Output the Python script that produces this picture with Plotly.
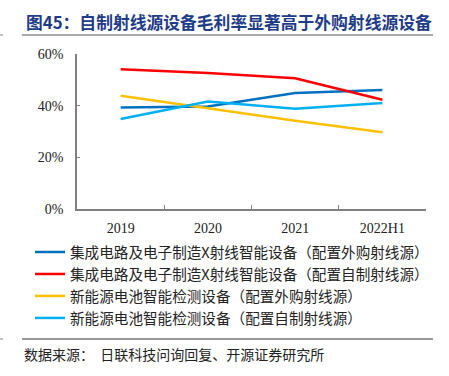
import plotly.graph_objects as go

categories = ["2019", "2020", "2021", "2022H1"]
series_names = [
    "集成电路及电子制造X射线智能设备（配置外购射线源）",
    "集成电路及电子制造X射线智能设备（配置自制射线源）",
    "新能源电池智能检测设备（配置外购射线源）",
    "新能源电池智能检测设备（配置自制射线源）",
]
ic_outsourced = [39.3, 39.7, 44.9, 46.1]
ic_selfmade = [54.1, 52.6, 50.6, 42.3]
battery_outsourced = [43.8, 39.0, 34.2, 29.7]
battery_selfmade = [34.8, 41.6, 38.8, 41.0]
colors = ["#0070C0", "#FF0000", "#FFC000", "#00B0F0"]
y_ticks = [0, 20, 40, 60]
y_tick_labels = ["0%", "20%", "40%", "60%"]

fig = go.Figure()
for name, vals, c in zip(series_names,
                         [ic_outsourced, ic_selfmade, battery_outsourced, battery_selfmade],
                         colors):
    fig.add_trace(go.Scatter(x=categories, y=vals, mode="lines", name=name,
                             line=dict(color=c, width=2.5)))

W, H = 449, 376
L, R, T, B = 77, 23, 54, 167
pw, ph = W - L - R, H - T - B

def px(x):
    return (x - L) / pw

def py(y):
    return (H - B - y) / ph

fig.update_layout(
    width=W, height=H,
    margin=dict(l=L, r=R, t=T, b=B),
    paper_bgcolor="white", plot_bgcolor="white",
    font=dict(family="Noto Sans CJK SC", color="#222222"),
    showlegend=True,
    legend=dict(x=px(30), y=py(236), xanchor="left", yanchor="top",
                font=dict(size=14.6, family="Noto Sans CJK SC", color="#222222"),
                bgcolor="rgba(0,0,0,0)", tracegroupgap=0, itemwidth=30),
    xaxis=dict(type="category", showline=True, linecolor="#808080", linewidth=1.5,
               ticks="inside", ticklen=4, tickcolor="#808080", tickson="boundaries",
               showgrid=False, tickfont=dict(family="Liberation Serif", size=14, color="#222222"),
               ticklabelstandoff=5, range=[-0.5, 3.5], fixedrange=True),
    yaxis=dict(range=[0, 60], tickvals=y_ticks, ticktext=y_tick_labels, showline=True,
               linecolor="#808080", linewidth=1.5, ticks="inside", ticklen=3,
               tickcolor="#808080", showgrid=False, zeroline=False,
               tickfont=dict(family="Liberation Serif", size=14, color="#222222"),
               ticklabelstandoff=9, fixedrange=True),
)

# title
fig.add_annotation(x=px(24), y=py(22), xref="paper", yref="paper", xanchor="left", yanchor="middle",
                   text="<b>图45：自制射线源设备毛利率显著高于外购射线源设备</b>", showarrow=False,
                   font=dict(size=16.8, family="Noto Sans CJK SC", color="#1F3C88"))
fig.add_shape(type="line", xref="paper", yref="paper", x0=px(22), x1=px(433), y0=py(35), y1=py(35),
              line=dict(color="#555555", width=1))
fig.add_shape(type="line", xref="paper", yref="paper", x0=px(0), x1=px(3), y0=py(35), y1=py(35),
              line=dict(color="#888888", width=1))
# bottom rule and source
fig.add_shape(type="line", xref="paper", yref="paper", x0=px(22), x1=px(433), y0=py(339), y1=py(339),
              line=dict(color="#333333", width=1))
fig.add_shape(type="line", xref="paper", yref="paper", x0=px(0), x1=px(3), y0=py(339), y1=py(339),
              line=dict(color="#888888", width=1))
fig.add_annotation(x=px(22), y=py(354), xref="paper", yref="paper", xanchor="left", yanchor="middle",
                   text="数据来源：  日联科技问询回复、开源证券研究所", showarrow=False,
                   font=dict(size=14, family="Noto Sans CJK SC", color="#222222"))

fig.write_html("out.html", config={"displayModeBar": False},
               post_script="document.body.style.margin='0';")
